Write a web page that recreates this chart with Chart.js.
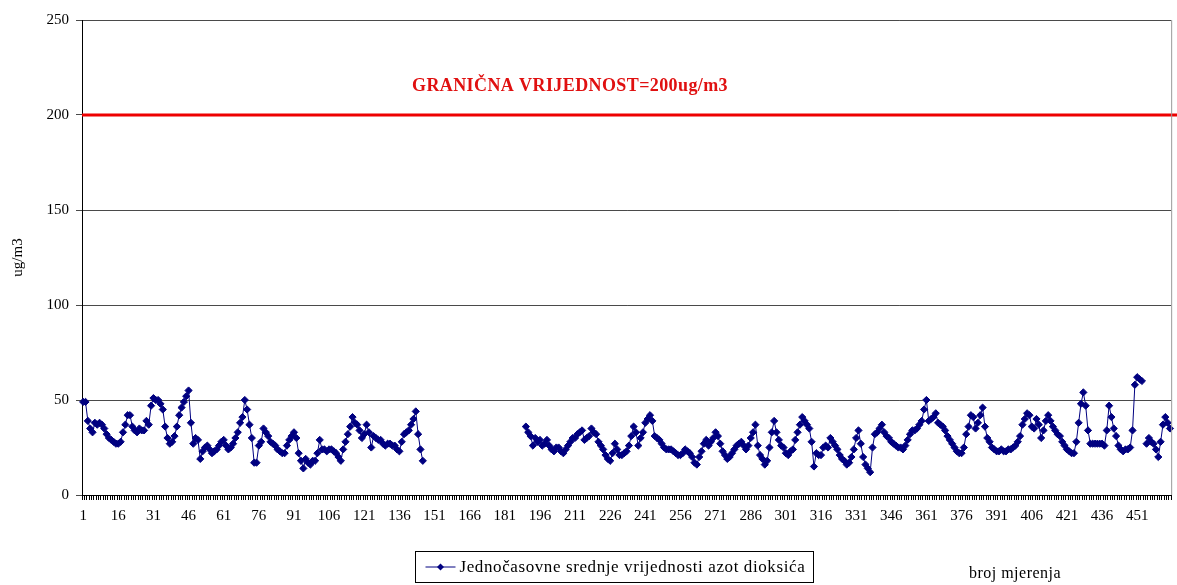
<!DOCTYPE html>
<html lang="bs">
<head>
  <meta charset="UTF-8">
  <title>Jednočasovne srednje vrijednosti azot dioksida</title>
  <script src="https://cdn.jsdelivr.net/npm/chart.js"></script>
  <style>
    html, body { margin: 0; padding: 0; background: #fff; }
  </style>
</head>
<body>
  <canvas id="no2Chart" width="1177" height="585"></canvas>

  <script>
    // measurement numbers 1..465 on the category axis
    const pointCount = 465;
    const categories = [];
    for (let i = 1; i <= pointCount; i++) categories.push(String(i));

    // labels Excel shows on the x axis (every 15th measurement)
    const tickLabels = ['1', '16', '31', '46', '61', '76', '91', '106', '121', '136', '151',
      '166', '181', '196', '211', '226', '241', '256', '271', '286', '301', '316', '331',
      '346', '361', '376', '391', '406', '421', '436', '451'];

    const yTicks = [0, 50, 100, 150, 200, 250];

    const limitValue = 200;
    const limitLabel = 'GRANIČNA VRIJEDNOST=200ug/m3';
    const seriesLabel = 'Jednočasovne srednje vrijednosti azot dioksića';

    const no2Values = [
      49, 49, 39, 35, 33, 38, 37, 38, 37, 35,
      32, 30, 29, 28, 27, 27, 28, 33, 37, 42,
      42, 36, 34, 33, 35, 34, 34, 39, 37, 47,
      51, 50, 50, 48, 45, 36, 30, 27, 28, 31,
      36, 42, 46, 49, 52, 55, 38, 27, 30, 29,
      19, 23, 25, 26, 24, 22, 23, 24, 26, 28,
      29, 26, 24, 25, 27, 30, 33, 38, 41, 50,
      45, 37, 30, 17, 17, 26, 28, 35, 33, 31,
      28, 27, 26, 24, 23, 22, 22, 26, 29, 31,
      33, 30, 22, 18, 14, 19, 17, 16, 18, 18,
      22, 29, 24, 24, 23, 24, 24, 23, 22, 20,
      18, 24, 28, 32, 36, 41, 38, 37, 34, 30,
      32, 37, 33, 25, 31, 30, 29, 29, 27, 26,
      27, 27, 26, 26, 24, 23, 28, 32, 33, 34,
      37, 40, 44, 32, 24, 18,
      null, null, null, null,
      null, null, null, null, null, null, null, null, null, null,
      null, null, null, null, null, null, null, null, null, null,
      null, null, null, null, null, null, null, null, null, null,
      null, null, null, null, null, null, null, null, null,
      36, 33, 31, 26, 30, 28, 29, 26, 27, 29, 26,
      24, 23, 25, 25, 23, 22, 24, 26, 28, 30,
      30, 32, 33, 34, 29, 30, 31, 35, 33, 32,
      28, 26, 24, 21, 19, 18, 22, 27, 24, 21,
      21, 22, 23, 26, 31, 36, 33, 26, 30, 33,
      38, 40, 42, 39, 31, 30, 29, 27, 25, 24,
      24, 24, 23, 22, 21, 21, 22, 24, 23, 22,
      20, 17, 16, 20, 23, 27, 29, 26, 28, 30,
      33, 31, 27, 23, 21, 19, 20, 22, 24, 26,
      27, 28, 26, 24, 26, 30, 33, 37, 26, 21,
      19, 16, 18, 25, 33, 39, 33, 29, 26, 25,
      22, 21, 23, 24, 29, 33, 37, 41, 39, 37,
      35, 28, 15, 22, 21, 21, 25, 26, 25, 30,
      28, 26, 24, 21, 19, 18, 16, 17, 20, 24,
      30, 34, 27, 20, 16, 14, 12, 25, 32, 33,
      35, 37, 33, 31, 30, 28, 27, 26, 25, 25,
      24, 26, 29, 32, 34, 34, 35, 37, 39, 45,
      50, 39, 40, 41, 43, 38, 37, 36, 34, 31,
      29, 27, 25, 23, 22, 22, 25, 32, 36, 42,
      41, 35, 38, 42, 46, 36, 30, 28, 25, 24,
      23, 23, 24, 23, 23, 24, 24, 25, 26, 28,
      31, 37, 40, 43, 42, 36, 35, 40, 37, 30,
      34, 39, 42, 39, 36, 34, 32, 31, 28, 26,
      24, 23, 22, 22, 28, 38, 48, 54, 47, 34,
      27, 27, 27, 27, 27, 27, 26, 34, 47, 41,
      35, 31, 26, 24, 23, 24, 24, 25, 34, 58,
      62, 61, 60, null, 27, 30, 28, 27, 24, 20,
      28, 37, 41, 38, 35
    ];

    const serif = '"Liberation Serif", "Times New Roman", serif';
    const navy = '#000080';
    Chart.defaults.font.family = serif;
    Chart.defaults.color = '#000';

    // red limit line + its caption, placed through the y scale
    const limitPlugin = {
      id: 'limitLine',
      afterDatasetsDraw(chart) {
        const { ctx, chartArea, scales } = chart;
        const yPix = scales.y.getPixelForValue(limitValue);
        ctx.save();
        ctx.strokeStyle = '#ee0000';
        ctx.lineWidth = 3;
        ctx.beginPath();
        ctx.moveTo(chartArea.left, yPix);
        ctx.lineTo(chart.width, yPix);
        ctx.stroke();

        ctx.fillStyle = '#e01010';
        ctx.font = 'bold 18px ' + serif;
        ctx.letterSpacing = '0.4px';
        ctx.textBaseline = 'middle';
        ctx.textAlign = 'left';
        ctx.fillText(limitLabel, chartArea.left + chartArea.width * 0.303, yPix - 29);
        ctx.restore();
      }
    };

    // boxed legend and x axis caption, like the Excel layout
    const legendPlugin = {
      id: 'boxLegend',
      afterDraw(chart) {
        const { ctx, chartArea } = chart;
        ctx.save();

        // gray right border of the plot area
        ctx.strokeStyle = '#999';
        ctx.lineWidth = 1;
        ctx.beginPath();
        ctx.moveTo(chartArea.right + 0.5, chartArea.top);
        ctx.lineTo(chartArea.right + 0.5, chartArea.bottom);
        ctx.stroke();

        ctx.font = '17px ' + serif;
        ctx.letterSpacing = '0.6px';
        const textW = ctx.measureText(seriesLabel).width;
        const boxX = 415.5, boxY = 551.5, boxH = 31;
        const boxW = Math.round(44 + textW + 8);

        ctx.strokeStyle = '#000';
        ctx.strokeRect(boxX, boxY, boxW, boxH);

        const midY = boxY + boxH / 2;
        ctx.strokeStyle = navy;
        ctx.beginPath();
        ctx.moveTo(boxX + 10, midY);
        ctx.lineTo(boxX + 40, midY);
        ctx.stroke();
        ctx.fillStyle = navy;
        ctx.beginPath();
        ctx.moveTo(boxX + 25, midY - 3.5);
        ctx.lineTo(boxX + 28.5, midY);
        ctx.lineTo(boxX + 25, midY + 3.5);
        ctx.lineTo(boxX + 21.5, midY);
        ctx.closePath();
        ctx.fill();

        ctx.fillStyle = '#000';
        ctx.textBaseline = 'middle';
        ctx.textAlign = 'left';
        ctx.fillText(seriesLabel, boxX + 44, midY + 1);

        ctx.font = '16px ' + serif;
        ctx.letterSpacing = '0.5px';
        ctx.textAlign = 'center';
        ctx.fillText('broj mjerenja', 1015, 574);
        ctx.restore();
      }
    };

    new Chart(document.getElementById('no2Chart'), {
      type: 'line',
      data: {
        labels: categories,
        datasets: [{
          label: seriesLabel,
          data: no2Values,
          borderColor: navy,
          borderWidth: 1,
          backgroundColor: navy,
          pointStyle: 'rectRot',
          pointRadius: 3.6,
          pointBorderWidth: 1,
          pointBackgroundColor: navy,
          pointBorderColor: navy,
          spanGaps: false,
          tension: 0
        }]
      },
      options: {
        responsive: false,
        animation: false,
        devicePixelRatio: 1,
        layout: { padding: { top: 20, right: 5, bottom: 48, left: 0 } },
        plugins: {
          legend: { display: false },
          tooltip: { enabled: false }
        },
        scales: {
          x: {
            type: 'category',
            offset: true,
            afterFit(scale) { scale.height = 42; },
            grid: {
              display: true,
              drawOnChartArea: false,
              drawTicks: true,
              tickLength: 5,
              color: '#000',
              offset: true
            },
            border: { display: true, color: '#000', width: 1 },
            ticks: {
              autoSkip: false,
              maxRotation: 0,
              minRotation: 0,
              padding: 7,
              font: { size: 15, family: serif },
              color: '#000',
              callback(value, index) {
                const lab = categories[index];
                return tickLabels.includes(lab) ? lab : '';
              }
            }
          },
          y: {
            min: yTicks[0],
            max: yTicks[yTicks.length - 1],
            afterFit(scale) { scale.width = 82; },
            afterBuildTicks(scale) { scale.ticks = yTicks.map(v => ({ value: v })); },
            grid: {
              color: '#4a4a4a',
              lineWidth: 1,
              tickLength: 6
            },
            border: { display: true, color: '#000', width: 1 },
            ticks: {
              padding: 7,
              font: { size: 15, family: serif },
              color: '#000'
            },
            title: {
              display: true,
              text: 'ug/m3',
              font: { size: 15, family: serif },
              color: '#000',
              padding: { top: 9, bottom: 0 }
            }
          }
        }
      },
      plugins: [limitPlugin, legendPlugin]
    });
  </script>
</body>
</html>
